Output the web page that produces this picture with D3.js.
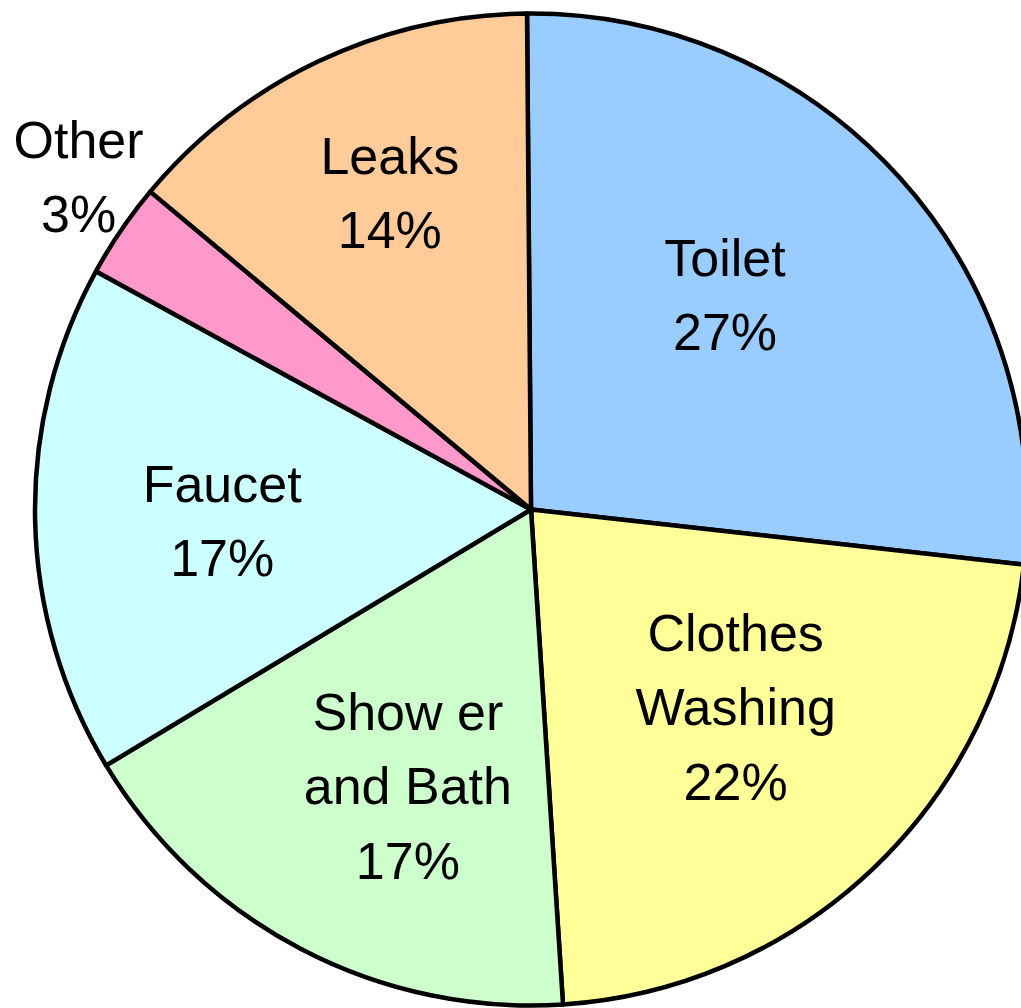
<!DOCTYPE html>
<html>
<head>
<meta charset="utf-8">
<script src="https://cdn.jsdelivr.net/npm/d3@7"></script>
<style>
    html, body { margin: 0; padding: 0; background: #fff; overflow: hidden; }
    .label { font-family: "Liberation Sans", Arial, sans-serif; font-size: 52px; fill: #000; }
</style>
</head>
<body>
<div id="chart"></div>
<script>
'use strict';

// slices, clockwise from 12 o'clock
let categories = ['Toilet', 'Clothes\nWashing', 'Show er\nand Bath', 'Faucet', 'Other', 'Leaks'];
let shares = [26.9, 22.2, 17.4, 16.6, 3.1, 13.8];
let colours = ['#99CCFF', '#FFFF99', '#CCFFCC', '#CCFFFF', '#FF99CC', '#FFCC99'];

// label placement: radius as fraction of pie radius, angle nudge in degrees
let labelLayout = {
    'Toilet':            { r: 0.584, nudge: -5.9 },
    'Clothes\nWashing':  { r: 0.573, nudge: -2.4 },
    'Show er\nand Bath': { r: 0.610, nudge: -3.6 },
    'Faucet':            { r: 0.623, nudge: -0.8 },
    'Other':             { r: 1.133, nudge: 2.1 },
    'Leaks':             { r: 0.700, nudge: 1.3 }
};

var Charts = function charts() {

    let svg = null;
    let layers = {};
    let pie;
    let arc;
    let colourMap;

    let renderSVG = function renderSVG(element, config) {

        svg = d3.select(element)
            .append('svg')
            .attr('width', config.width)
            .attr('height', config.height)
            .style('display', 'block')
            .append('g')
            .attr('transform', 'translate(' + config.cx + ',' + config.cy + ')');
    }

    let renderLayers = function renderLayers() {

        layers.slices = svg.append('g').attr('class', 'slices');
        layers.labels = svg.append('g').attr('class', 'labels');
    }

    let setScale = function setScale(config) {

        colourMap = d3.scaleOrdinal()
            .domain(categories)
            .range(colours);

        let start = config.startDeg * Math.PI / 180;

        pie = d3.pie()
            .sort(null)
            .value(d => d.share)
            .startAngle(start)
            .endAngle(start + 2 * Math.PI);

        arc = d3.arc()
            .innerRadius(0)
            .outerRadius(config.radius);
    }

    let drawSlices = function drawSlices(arcs) {

        layers.slices.selectAll('.slice')
            .data(arcs)
            .enter()
            .append('path')
            .attr('class', 'slice')
            .attr('d', arc)
            .attr('fill', d => colourMap(d.data.name))
            .attr('stroke', '#000')
            .attr('stroke-width', 4.5)
            .attr('stroke-linejoin', 'round');
    }

    let drawLabels = function drawLabels(arcs, config) {

        let lineHeight = 74.5;
        let capHeight = 0.716 * 52;
        let total = d3.sum(arcs, d => d.data.share);

        let labels = layers.labels.selectAll('.label')
            .data(arcs)
            .enter()
            .append('text')
            .attr('class', 'label')
            .attr('text-anchor', 'middle');

        labels.each(function(d) {

            let lay = labelLayout[d.data.name];
            let mid = (d.startAngle + d.endAngle) / 2 + lay.nudge * Math.PI / 180;
            let rr = lay.r * config.radius;
            let x = Math.sin(mid) * rr;
            let y = -Math.cos(mid) * rr;

            let lines = d.data.name.split('\n');
            lines.push(Math.round(d.data.share / total * 100) + '%');

            let blockHeight = capHeight + (lines.length - 1) * lineHeight;
            let firstBase = y - blockHeight / 2 + capHeight;

            d3.select(this).selectAll('tspan')
                .data(lines)
                .enter()
                .append('tspan')
                .attr('x', x)
                .attr('y', (t, i) => firstBase + i * lineHeight)
                .text(t => t);
        });
    }

    let pieChart = function pieChart(el) {

        let dataset = categories.map((c, i) => ({ name: c, share: shares[i] }));

        let config = {
            width: 1021,
            height: 1008,
            cx: 531,
            cy: 509.5,
            radius: 496,
            startDeg: -0.46
        };

        renderSVG(el, config);
        renderLayers();
        setScale(config);

        let arcs = pie(dataset);
        drawSlices(arcs);
        drawLabels(arcs, config);
    }

    return {
        pieChart : pieChart
    }
}

Charts().pieChart('#chart');
</script>
</body>
</html>
